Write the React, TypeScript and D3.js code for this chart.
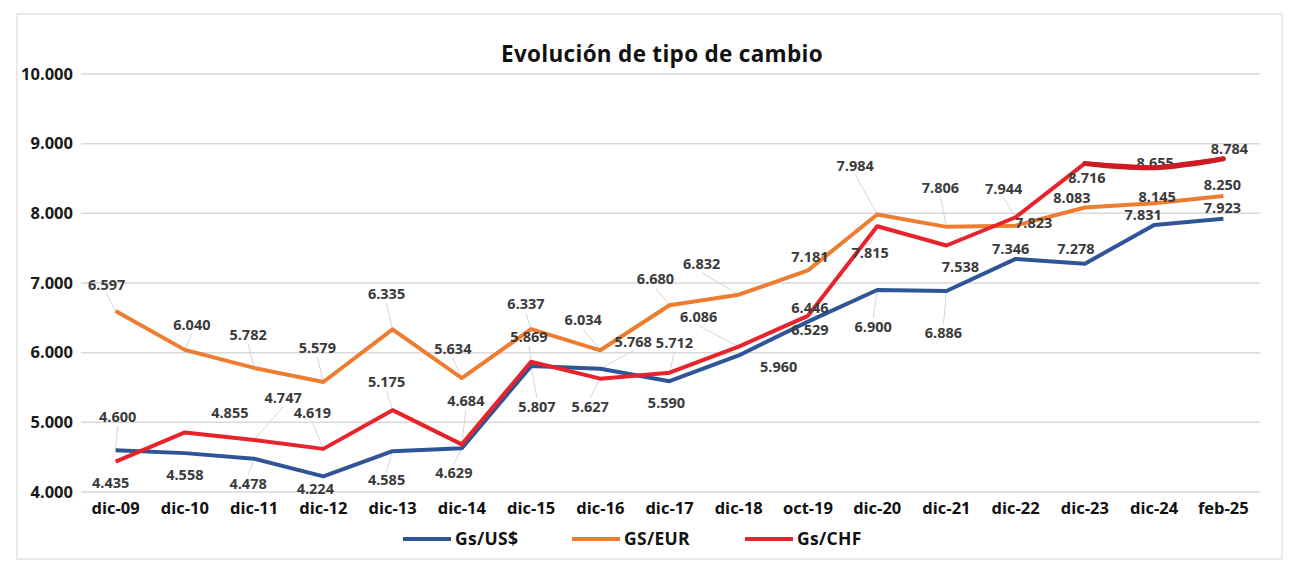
import React from "react";
import * as d3 from "d3";

const categories = ["dic-09", "dic-10", "dic-11", "dic-12", "dic-13", "dic-14", "dic-15", "dic-16", "dic-17", "dic-18", "oct-19", "dic-20", "dic-21", "dic-22", "dic-23", "dic-24", "feb-25"];
const usd = [4600, 4558, 4478, 4224, 4585, 4629, 5807, 5768, 5590, 5960, 6446, 6900, 6886, 7346, 7278, 7831, 7923];
const eur = [6597, 6040, 5782, 5579, 6335, 5634, 6337, 6034, 6680, 6832, 7181, 7984, 7806, 7823, 8083, 8145, 8250];
const chf = [4435, 4855, 4747, 4619, 5175, 4684, 5869, 5627, 5712, 6086, 6529, 7815, 7538, 7944, 8716, 8655, 8784];
const yTicks = [4000, 5000, 6000, 7000, 8000, 9000, 10000];
const title = "Evolución de tipo de cambio";

// label offsets (px) from each point
const usdOff = [[2, -33], [0, 22], [-6, 25], [-8, 13], [-6, 29], [-8, 25], [6, 41], [33, -27], [-3, 22], [40, 11], [2, -14], [-4, 37], [-3, 42], [-5, -10], [-9, -15], [-11, -10], [-1, -11]];
const eurOff = [[-9, -26], [7, -25], [-6, -33], [-6, -34], [-6, -35], [-9, -29], [-5, -25], [-17, -30], [-14, -26], [-37, -31], [2, -13], [-22, -49], [-6, -39], [18, -3], [-13, -10], [3, -6], [-1, -11]];
const chfOff = [[-5, 21], [45, -20], [29, -42], [-11, -36], [-6, -28], [4, -43], [-2, -25], [-10, 28], [5, -30], [-40, -30], [2, 14], [-7, 27], [14, 21], [-12, -28], [2, 14], [1, -5], [6, -10]];

const W = 1295, H = 566;
const FONT = "'Open Sans', 'DejaVu Sans', sans-serif";

const fmt = d3.formatLocale({ decimal: ",", thousands: ".", grouping: [3], currency: ["", ""] }).format(",d");

export default function App() {
  const x = d3.scalePoint<string>().domain(categories).range([81, 1258]).padding(0.5);
  const y = d3.scaleLinear().domain([4000, 10000]).range([492, 74]);
  const line = d3.line<number>().x((_, i) => x(categories[i])!).y(d => y(d));

  const series = [
    { name: "Gs/US$", values: usd, off: usdOff, color: "#2f5597" },
    { name: "GS/EUR", values: eur, off: eurOff, color: "#ed7d31" },
    { name: "Gs/CHF", values: chf, off: chfOff, color: "#e8232b" },
  ];

  const legendX = [403, 572, 745];

  return (
    <svg width={W} height={H} style={{ position: "absolute", left: 0, top: 0, background: "#fff" }} fontFamily={FONT}>
      <rect x={17} y={14} width={1265} height={545} fill="#fff" stroke="#e3e3e3" strokeWidth={1.5} />
      <text x={662} y={62} textAnchor="middle" fontSize={22.5} fontWeight={700} fill="#111" letterSpacing={0.3}>{title}</text>

      {yTicks.map(t => (
        <g key={t}>
          <line x1={81} x2={1260} y1={y(t)} y2={y(t)} stroke="#d9d9d9" strokeWidth={1.5} />
          <text x={73} y={y(t)} dy="0.35em" textAnchor="end" fontSize={16.5} fontWeight={700} fill="#1a1a1a">{fmt(t)}</text>
        </g>
      ))}

      {categories.map(c => (
        <text key={c} x={x(c)} y={514} textAnchor="middle" fontSize={16.5} fontWeight={700} fill="#111">{c}</text>
      ))}

      {series.map(s => (
        <g key={s.name + "-leaders"}>
          {s.values.map((v, i) => {
            const [dx, dy] = s.off[i];
            if (Math.abs(dy) < 24) return null;
            const px = x(categories[i])!, py = y(v);
            const ly = py + dy + (dy < 0 ? 9 : -9);
            return <line key={i} x1={px} y1={py} x2={px + dx} y2={ly} stroke="#d6d6d6" strokeWidth={1} />;
          })}
        </g>
      ))}

      {series.map(s => (
        <path key={s.name} d={line(s.values)!} fill="none" stroke={s.color} strokeWidth={4} strokeLinejoin="round" />
      ))}

      {series.map(s => (
        <g key={s.name + "-labels"}>
          {s.values.map((v, i) => {
            const [dx, dy] = s.off[i];
            return (
              <text key={i} x={x(categories[i])! + dx} y={y(v) + dy} dy="0.35em" textAnchor="middle" fontSize={14.5} fontWeight={700} fill="#3b3b3b">{fmt(v)}</text>
            );
          })}
        </g>
      ))}

      {/* red tail drawn over its labels, as in the source */}
      <path d={d3.line<number>().x((_, i) => x(categories[i + 14])!).y(d => y(d)).curve(d3.curveCatmullRom)(chf.slice(14))!} fill="none" stroke="#cc1b22" strokeWidth={5} strokeLinecap="round" />

      {series.map((s, i) => (
        <g key={s.name + "-legend"} transform={`translate(${legendX[i]},539)`}>
          <line x1={0} x2={48} y1={0} y2={0} stroke={s.color} strokeWidth={4} />
          <text x={52} y={0} dy="0.35em" fontSize={17.5} fontWeight={700} fill="#111" letterSpacing={0.3}>{s.name}</text>
        </g>
      ))}
    </svg>
  );
}
